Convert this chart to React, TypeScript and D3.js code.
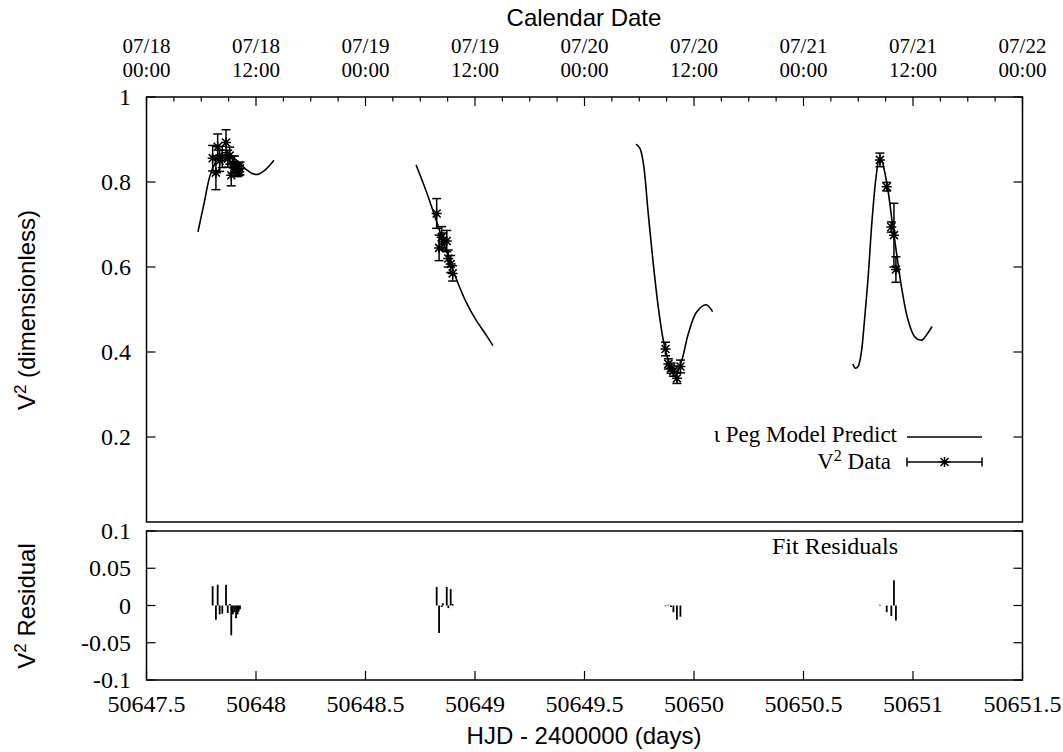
import React from "react";
import * as d3 from "d3";

// Model prediction curves, one per night: [HJD - 2400000, V^2]
const model1: [number, number][] = [
  [50647.735, 0.683], [50647.763, 0.75], [50647.79, 0.815], [50647.817, 0.848],
  [50647.845, 0.868], [50647.872, 0.868], [50647.9, 0.856], [50647.927, 0.843],
  [50647.954, 0.83], [50647.982, 0.82], [50648.009, 0.818], [50648.037, 0.826],
  [50648.064, 0.84], [50648.082, 0.851],
];
const model2: [number, number][] = [
  [50648.731, 0.84], [50648.776, 0.78], [50648.822, 0.711], [50648.868, 0.64],
  [50648.913, 0.574], [50648.959, 0.518], [50649.005, 0.475], [50649.05, 0.441],
  [50649.082, 0.415],
];
const model3: [number, number][] = [
  [50649.735, 0.889], [50649.753, 0.879], [50649.769, 0.843], [50649.791, 0.726],
  [50649.814, 0.608], [50649.837, 0.505], [50649.86, 0.427], [50649.883, 0.38],
  [50649.913, 0.344], [50649.944, 0.38], [50649.974, 0.443], [50650.012, 0.494],
  [50650.055, 0.511], [50650.085, 0.495],
];
const model4: [number, number][] = [
  [50650.726, 0.372], [50650.737, 0.362], [50650.749, 0.366], [50650.763, 0.395],
  [50650.776, 0.46], [50650.795, 0.575], [50650.813, 0.71], [50650.831, 0.81],
  [50650.845, 0.853], [50650.854, 0.855], [50650.868, 0.83], [50650.886, 0.78],
  [50650.904, 0.71], [50650.927, 0.625], [50650.95, 0.545], [50650.977, 0.476],
  [50651.009, 0.435], [50651.04, 0.428], [50651.064, 0.442], [50651.087, 0.46],
];

// Measured squared visibilities
const obsHjd = [
  50647.802, 50647.817, 50647.825, 50647.834, 50647.846, 50647.863, 50647.871, 50647.88,
  50647.887, 50647.894, 50647.901, 50647.909, 50647.916, 50647.921, 50647.927,
  50648.825, 50648.836, 50648.848, 50648.853, 50648.871, 50648.878, 50648.889, 50648.898,
  50649.87, 50649.883, 50649.895, 50649.906, 50649.922, 50649.938,
  50650.849, 50650.88, 50650.901, 50650.913, 50650.922,
];
const obsV2 = [
  0.856, 0.822, 0.883, 0.85, 0.859, 0.893, 0.855, 0.862,
  0.816, 0.841, 0.841, 0.828, 0.828, 0.83, 0.832,
  0.726, 0.645, 0.67, 0.66, 0.661, 0.62, 0.607, 0.585,
  0.407, 0.372, 0.362, 0.355, 0.338, 0.366,
  0.852, 0.789, 0.694, 0.675, 0.594,
];
const obsErr = [
  0.03, 0.04, 0.03, 0.025, 0.025, 0.03, 0.02, 0.02,
  0.025, 0.02, 0.02, 0.015, 0.015, 0.015, 0.015,
  0.035, 0.03, 0.025, 0.02, 0.025, 0.02, 0.02, 0.018,
  0.016, 0.012, 0.012, 0.012, 0.012, 0.015,
  0.016, 0.01, 0.012, 0.075, 0.03,
];
const obsResid = [
  0.026, -0.019, 0.028, -0.012, -0.011, 0.028, -0.01, 0.002,
  -0.04, -0.012, -0.009, -0.017, -0.012, -0.008, -0.005,
  0.025, -0.037, -0.002, 0.003, 0.025, -0.0035, 0.022, 0.002,
  -0.001, 0.001, -0.002, -0.009, -0.019, -0.015,
  0.001, -0.009, -0.014, 0.034, -0.02,
];

// Axis ticks
const hjdTicks = [50647.5, 50648, 50648.5, 50649, 50649.5, 50650, 50650.5, 50651, 50651.5];
const hjdTickLabels = ["50647.5", "50648", "50648.5", "50649", "50649.5", "50650", "50650.5", "50651", "50651.5"];
const calDates = ["07/18", "07/18", "07/19", "07/19", "07/20", "07/20", "07/21", "07/21", "07/22"];
const calTimes = ["00:00", "12:00", "00:00", "12:00", "00:00", "12:00", "00:00", "12:00", "00:00"];
const v2Ticks = [0.2, 0.4, 0.6, 0.8, 1];
const v2TickLabels = ["0.2", "0.4", "0.6", "0.8", "1"];
const resTicks = [-0.1, -0.05, 0, 0.05, 0.1];
const resTickLabels = ["-0.1", "-0.05", "0", "0.05", "0.1"];

const SERIF = "'Liberation Serif', 'Times New Roman', serif";
const SANS = "'Liberation Sans', Arial, sans-serif";
const FS = 24;

const L = 146.5, R = 1022.5;
const x = d3.scaleLinear().domain([50647.5, 50651.5]).range([L, R]);
const yTop = d3.scaleLinear().domain([0, 1]).range([522, 97]);
const yRes = d3.scaleLinear().domain([-0.1, 0.1]).range([680, 531]);

const line = d3
  .line<[number, number]>()
  .x((d) => x(d[0]))
  .y((d) => yTop(d[1]))
  .curve(d3.curveCatmullRom.alpha(0.5));

function star(cx: number, cy: number, h = 5) {
  const d = h * 0.8;
  return `M${cx - h},${cy}L${cx + h},${cy}M${cx},${cy - h}L${cx},${cy + h}` +
    `M${cx - d},${cy - d}L${cx + d},${cy + d}M${cx - d},${cy + d}L${cx + d},${cy - d}`;
}

export default function App() {
  const tickLen = 9;
  const minorTicks = d3.range(0, 33).map((i) => 50647.5 + i * 0.125);
  const topY = yTop(1), botY = yTop(0);
  const rTop = yRes(0.1), rBot = yRes(-0.1);
  const cap = 4.5;
  const legY1 = 437, legY2 = 462;

  return (
    <svg
      width={1063}
      height={752}
      style={{ position: "absolute", left: 0, top: 0, background: "#fff" }}
    >
      <rect x={0} y={0} width={1063} height={752} fill="#fff" />

      {/* Upper panel frame */}
      <rect x={L} y={topY} width={R - L} height={botY - topY} fill="none" stroke="#000" strokeWidth={1.5} />
      {/* Calendar ticks on the top edge */}
      {minorTicks.map((t, i) => (
        <line key={"ct" + i} x1={x(t)} x2={x(t)} y1={topY} y2={topY + (i % 4 === 0 ? tickLen : tickLen / 2)} stroke="#000" strokeWidth={1.2} />
      ))}
      {/* V^2 ticks, both sides */}
      {v2Ticks.map((t, i) => (
        <g key={"vt" + i}>
          <line x1={L} x2={L + tickLen} y1={yTop(t)} y2={yTop(t)} stroke="#000" strokeWidth={1.2} />
          <line x1={R} x2={R - tickLen} y1={yTop(t)} y2={yTop(t)} stroke="#000" strokeWidth={1.2} />
          <text x={131} y={yTop(t) + 8} textAnchor="end" fontFamily={SERIF} fontSize={FS}>{v2TickLabels[i]}</text>
        </g>
      ))}

      {/* Calendar labels: date over time of day */}
      {hjdTicks.map((t, i) => (
        <g key={"cl" + i} fontFamily={SERIF} fontSize={21} textAnchor="middle">
          <text x={x(t)} y={53}>{calDates[i]}</text>
          <text x={x(t)} y={76.5}>{calTimes[i]}</text>
        </g>
      ))}
      <text x={584} y={26} textAnchor="middle" fontFamily={SANS} fontSize={FS}>Calendar Date</text>

      {/* Model curves */}
      {[model1, model2, model3, model4].map((m, i) => (
        <path key={"m" + i} d={line(m) || ""} fill="none" stroke="#000" strokeWidth={1.6} />
      ))}

      {/* Data with error bars */}
      {obsHjd.map((h, i) => {
        const cx = x(h);
        const y0 = yTop(obsV2[i] - obsErr[i]);
        const y1 = yTop(obsV2[i] + obsErr[i]);
        return (
          <g key={"d" + i} stroke="#000" strokeWidth={1.5} fill="none">
            <line x1={cx} x2={cx} y1={y0} y2={y1} />
            <line x1={cx - cap} x2={cx + cap} y1={y0} y2={y0} />
            <line x1={cx - cap} x2={cx + cap} y1={y1} y2={y1} />
            <path d={star(cx, yTop(obsV2[i]))} />
          </g>
        );
      })}

      {/* Legend */}
      <text x={897} y={legY1 + 5} textAnchor="end" fontFamily={SERIF} fontSize={23}>ι Peg Model Predict</text>
      <line x1={907} x2={982} y1={legY1} y2={legY1} stroke="#000" strokeWidth={1.6} />
      <text x={891} y={legY2 + 7} textAnchor="end" fontFamily={SERIF} fontSize={23}>
        V<tspan dy={-8} fontSize={16}>2</tspan><tspan dy={8}> Data</tspan>
      </text>
      <g stroke="#000" strokeWidth={1.5} fill="none">
        <line x1={907} x2={982} y1={legY2} y2={legY2} />
        <line x1={907} x2={907} y1={legY2 - cap} y2={legY2 + cap} />
        <line x1={982} x2={982} y1={legY2 - cap} y2={legY2 + cap} />
        <path d={star(944.5, legY2)} />
      </g>

      {/* Residual panel */}
      <rect x={L} y={rTop} width={R - L} height={rBot - rTop} fill="none" stroke="#000" strokeWidth={1.5} />
      {resTicks.map((t, i) => (
        <g key={"rt" + i}>
          <line x1={L} x2={L + tickLen} y1={yRes(t)} y2={yRes(t)} stroke="#000" strokeWidth={1.2} />
          <line x1={R} x2={R - tickLen} y1={yRes(t)} y2={yRes(t)} stroke="#000" strokeWidth={1.2} />
          <text x={131} y={yRes(t) + 8} textAnchor="end" fontFamily={SERIF} fontSize={FS}>{resTickLabels[i]}</text>
        </g>
      ))}
      {hjdTicks.map((t, i) => (
        <g key={"xt" + i}>
          <line x1={x(t)} x2={x(t)} y1={rBot} y2={rBot - tickLen} stroke="#000" strokeWidth={1.2} />
          <text x={x(t)} y={712} textAnchor="middle" fontFamily={SERIF} fontSize={FS}>{hjdTickLabels[i]}</text>
        </g>
      ))}
      <text x={898} y={554} textAnchor="end" fontFamily={SERIF} fontSize={FS}>Fit Residuals</text>
      {obsHjd.map((h, i) => (
        <line key={"r" + i} x1={x(h)} x2={x(h)} y1={yRes(0)} y2={yRes(obsResid[i])} stroke="#000" strokeWidth={1.8} />
      ))}

      {/* Axis titles */}
      <text x={584} y={744} textAnchor="middle" fontFamily={SANS} fontSize={FS}>HJD - 2400000 (days)</text>
      <text transform="translate(35,310) rotate(-90)" textAnchor="middle" fontFamily={SANS} fontSize={FS}>
        V<tspan dy={-9} fontSize={17}>2</tspan><tspan dy={9}> (dimensionless)</tspan>
      </text>
      <text transform="translate(35,606) rotate(-90)" textAnchor="middle" fontFamily={SANS} fontSize={FS}>
        V<tspan dy={-9} fontSize={17}>2</tspan><tspan dy={9}> Residual</tspan>
      </text>
    </svg>
  );
}
